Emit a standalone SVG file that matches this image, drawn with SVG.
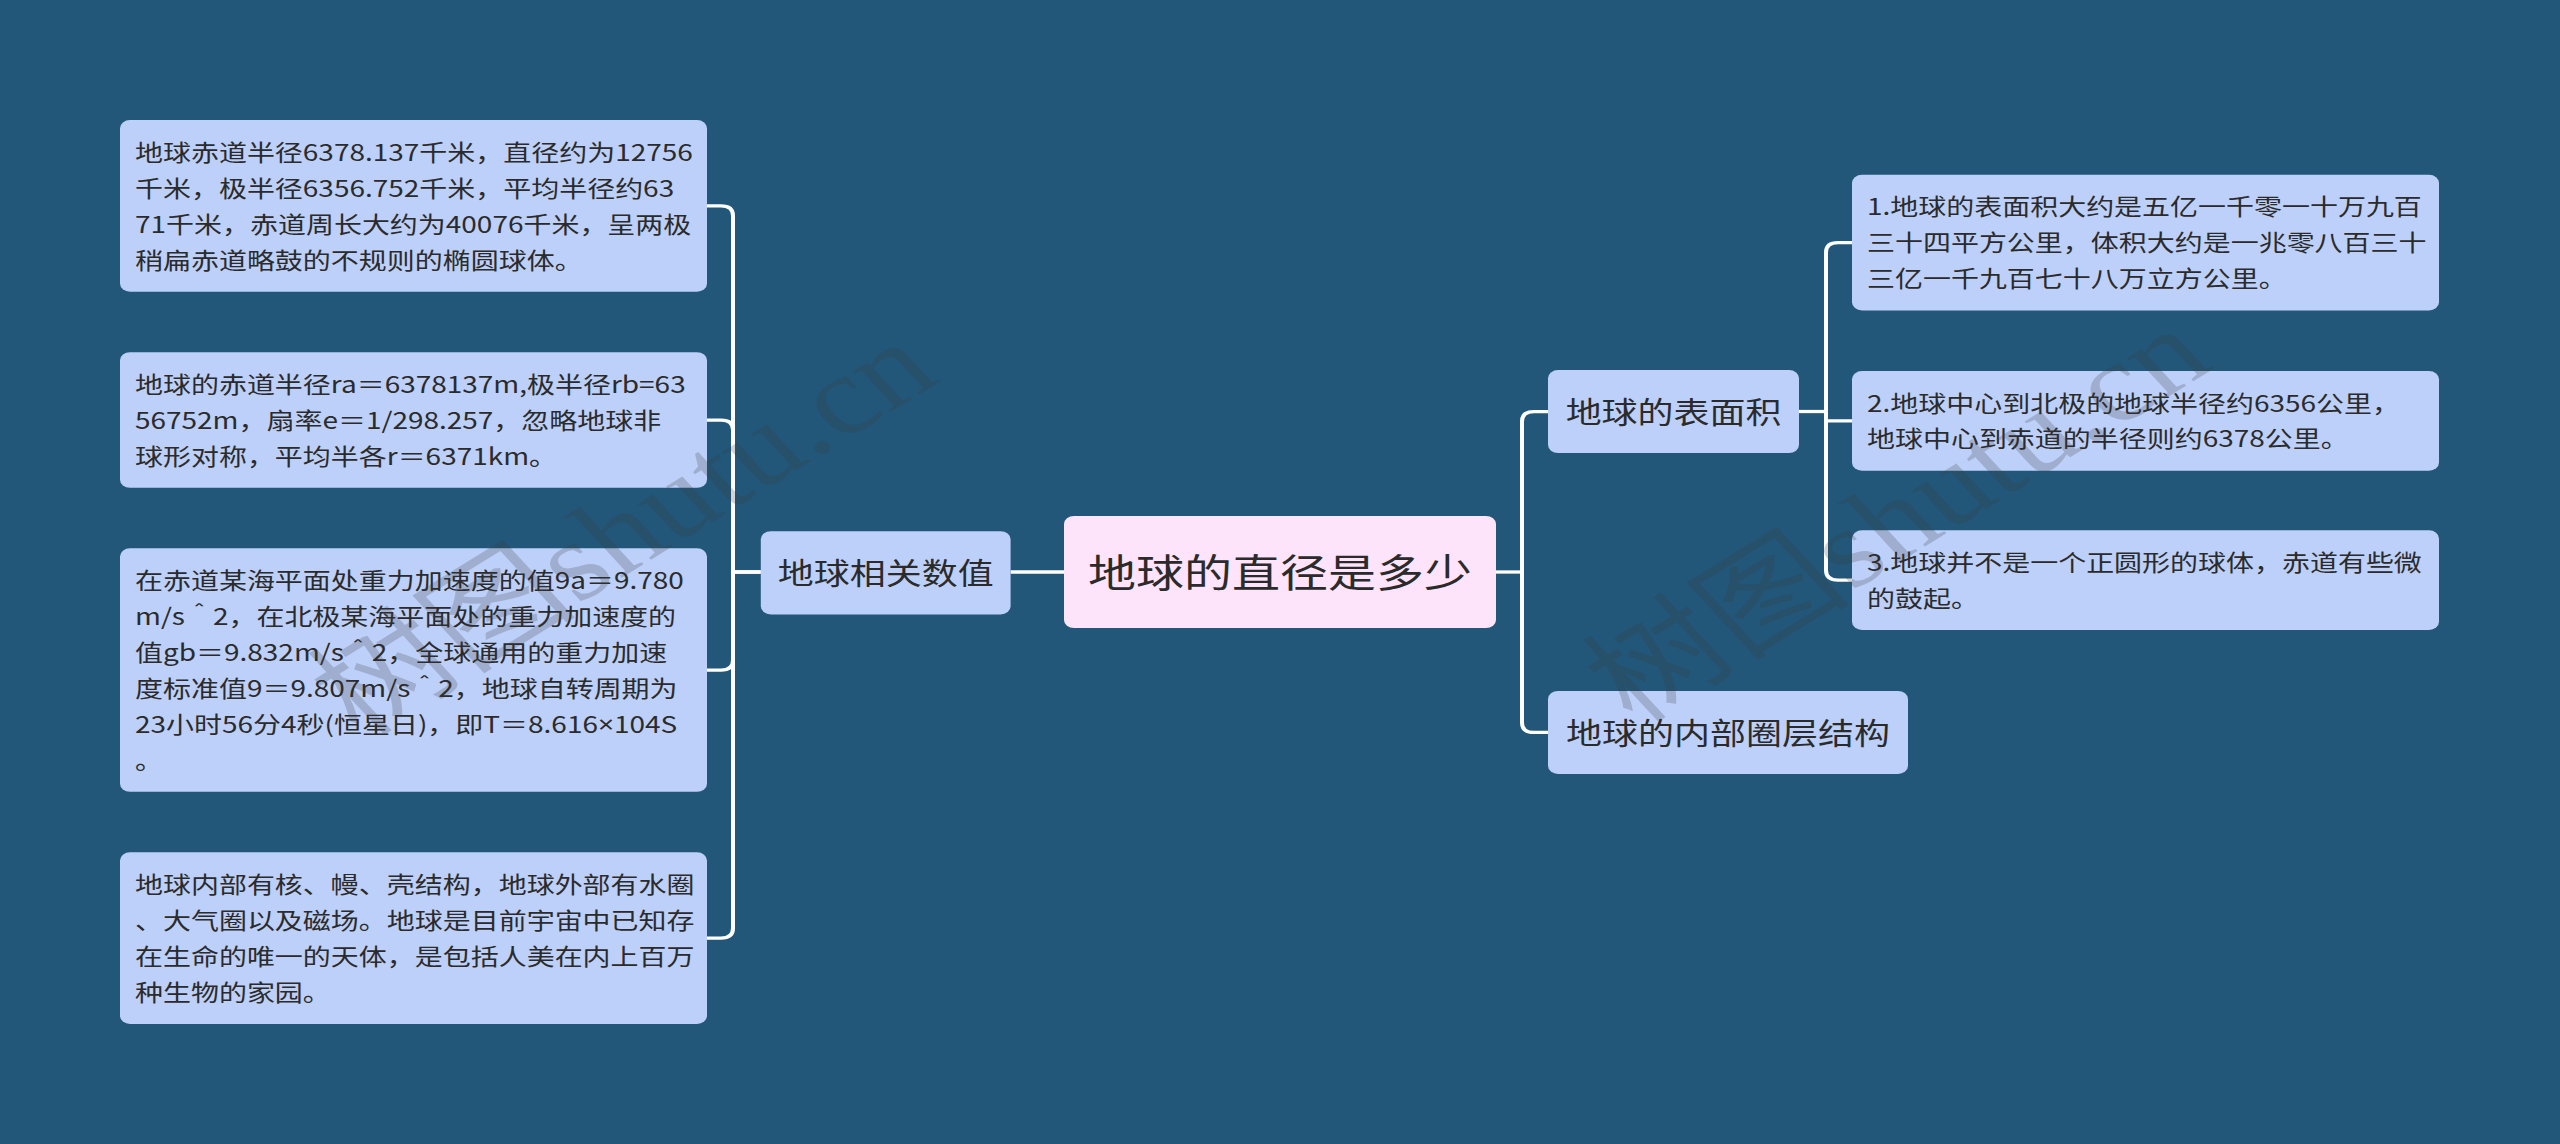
<svg xmlns="http://www.w3.org/2000/svg" width="2560" height="1144" viewBox="0 0 2560 1144">
<style>
.bg{fill:#22577a}
.leaf{fill:#bdd0fa}
.root{fill:#fde4fb}
.t{font-family:"Noto Sans CJK SC","Noto Sans",sans-serif;fill:#2b2b2b}
.t14{font-size:14px}
.t18{font-size:18px}
.t24{font-size:24px}
.lat{font-family:"Noto Sans",sans-serif}
.c{fill:none;stroke:#ffffff;stroke-width:2}
.wm{font-family:"Liberation Serif","Noto Sans CJK SC",serif;font-size:68px;fill:#3a3a3a;opacity:0.22}
</style>
<rect class="bg" x="0" y="0" width="2560" height="1144"/>
<g transform="scale(2,1.634286)">
<g id="connectors">
<path class="c" d="M532,350 H505.3"/>
<path class="c" d="M380.4,350 H366.5 V132 Q366.5,126 360.5,126 H353.5"/>
<path class="c" d="M366.5,350 V263 Q366.5,257 360.5,257 H353.5"/>
<path class="c" d="M366.5,350 V404 Q366.5,410 360.5,410 H353.5"/>
<path class="c" d="M380.4,350 H366.5 V568 Q366.5,574 360.5,574 H353.5"/>
<path class="c" d="M748,350 H761"/>
<path class="c" d="M761,350 V257.8 Q761,251.8 767,251.8 H774"/>
<path class="c" d="M761,350 V442.2 Q761,448.2 767,448.2 H774"/>
<path class="c" d="M899.5,251.8 H913"/>
<path class="c" d="M913,251.8 V154.5 Q913,148.5 919,148.5 H926"/>
<path class="c" d="M913,251.8 V257.5 H926"/>
<path class="c" d="M913,251.8 V349 Q913,355 919,355 H926"/>
</g>
<g id="root">
<rect class="root" x="532" y="315.7" width="216" height="68.6" rx="5"/>
<text class="t t24" x="640" y="359.1" text-anchor="middle">地球的直径是多少</text>
</g>
<g id="branch-values">
<rect class="leaf" x="380.4" y="325" width="124.9" height="51" rx="5"/>
<text class="t t18" x="442.9" y="357.3" text-anchor="middle">地球相关数值</text>
</g>
<g id="branch-surface">
<rect class="leaf" x="774" y="226.4" width="125.5" height="50.8" rx="5"/>
<text class="t t18" x="836.8" y="258.6" text-anchor="middle">地球的表面积</text>
</g>
<g id="branch-inner">
<rect class="leaf" x="774" y="422.8" width="180" height="50.8" rx="5"/>
<text class="t t18" x="864" y="455" text-anchor="middle">地球的内部圈层结构</text>
</g>
<g id="leaf-l1">
<rect class="leaf" x="60" y="73.5" width="293.5" height="105" rx="5"/>
<text class="t t14" x="67.5" y="98.3"><tspan x="67.5">地球赤道半径6378.137千米，直径约为12756</tspan><tspan x="67.5" dy="22">千米，极半径6356.752千米，平均半径约63</tspan><tspan x="67.5" dy="22">71千米，赤道周长大约为40076千米，呈两极</tspan><tspan x="67.5" dy="22">稍扁赤道略鼓的不规则的椭圆球体。</tspan></text>
</g>
<g id="leaf-l2">
<rect class="leaf" x="60" y="215.5" width="293.5" height="83" rx="5"/>
<text class="t t14" x="67.5" y="240.3"><tspan x="67.5">地球的赤道半径ra＝6378137m,极半径rb=63</tspan><tspan x="67.5" dy="22">56752m，扇率e＝1/298.257，忽略地球非</tspan><tspan x="67.5" dy="22">球形对称，平均半各r＝6371km。</tspan></text>
</g>
<g id="leaf-l3">
<rect class="leaf" x="60" y="335.5" width="293.5" height="149" rx="5"/>
<text class="t t14" x="67.5" y="360.3"><tspan x="67.5">在赤道某海平面处重力加速度的值9a＝9.780</tspan><tspan x="67.5" dy="22">m/s＾2，在北极某海平面处的重力加速度的</tspan><tspan x="67.5" dy="22">值gb＝9.832m/s＾2，全球通用的重力加速</tspan><tspan x="67.5" dy="22">度标准值9＝9.807m/s＾2，地球自转周期为</tspan><tspan x="67.5" dy="22">23小时56分4秒(恒星日)，即T＝8.616<tspan class="lat">×</tspan>104S</tspan><tspan x="67.5" dy="22">。</tspan></text>
</g>
<g id="leaf-l4">
<rect class="leaf" x="60" y="521.5" width="293.5" height="105" rx="5"/>
<text class="t t14" x="67.5" y="546.3"><tspan x="67.5">地球内部有核、幔、壳结构，地球外部有水圈</tspan><tspan x="67.5" dy="22">、大气圈以及磁场。地球是目前宇宙中已知存</tspan><tspan x="67.5" dy="22">在生命的唯一的天体，是包括人美在内上百万</tspan><tspan x="67.5" dy="22">种生物的家园。</tspan></text>
</g>
<g id="leaf-r1">
<rect class="leaf" x="926" y="107" width="293.5" height="83" rx="5"/>
<text class="t t14" x="933.5" y="131.8"><tspan x="933.5">1.地球的表面积大约是五亿一千零一十万九百</tspan><tspan x="933.5" dy="22">三十四平方公里，体积大约是一兆零八百三十</tspan><tspan x="933.5" dy="22">三亿一千九百七十八万立方公里。</tspan></text>
</g>
<g id="leaf-r2">
<rect class="leaf" x="926" y="227" width="293.5" height="61" rx="5"/>
<text class="t t14" x="933.5" y="251.8"><tspan x="933.5">2.地球中心到北极的地球半径约6356公里，</tspan><tspan x="933.5" dy="22">地球中心到赤道的半径则约6378公里。</tspan></text>
</g>
<g id="leaf-r3">
<rect class="leaf" x="926" y="324.5" width="293.5" height="61" rx="5"/>
<text class="t t14" x="933.5" y="349.3"><tspan x="933.5">3.地球并不是一个正圆形的球体，赤道有些微</tspan><tspan x="933.5" dy="22">的鼓起。</tspan></text>
</g>
<g id="watermark">
<text class="wm" transform="translate(180,452) rotate(-37)">树图shutu.cn</text>
<text class="wm" transform="translate(817,444) rotate(-37)">树图shutu.cn</text>
</g>
</g>
</svg>
